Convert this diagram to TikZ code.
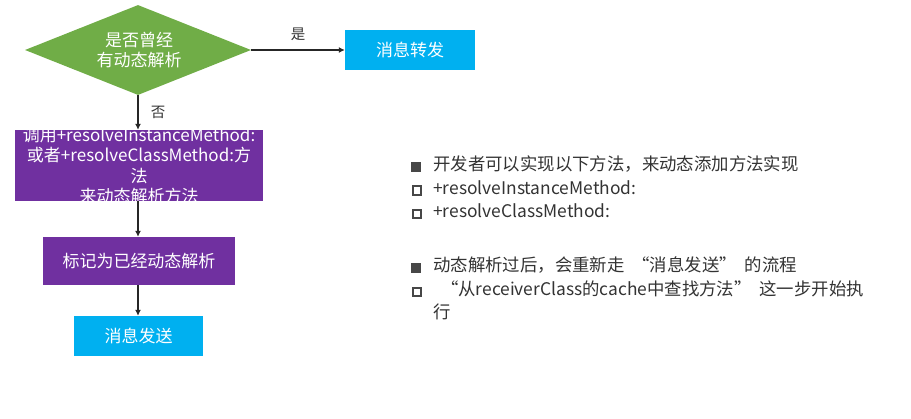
\documentclass[tikz,border=0pt]{standalone}
\usepackage{fontspec}
\setmainfont{Noto Sans CJK SC}
\usetikzlibrary{shapes.geometric,arrows.meta}

\definecolor{askgreen}{HTML}{70AD47}
\definecolor{sendblue}{HTML}{00B0F0}
\definecolor{stepviolet}{HTML}{7030A0}
\definecolor{notegray}{HTML}{333333}

% full-width quotes
\newcommand{\cnlq}{\hspace{0.45em}“}
\newcommand{\cnrq}{”\hspace{0.45em}}

\tikzset{
  flowbox/.style={rectangle, inner sep=0pt, text=white,
    font=\fontsize{17}{20.5}\selectfont, align=center},
  flow/.style={-{Latex[length=6pt,width=6pt]}, line width=1.3pt, black!85},
  flowlbl/.style={text=notegray, font=\fontsize{14.5}{16}\selectfont},
  note/.style={anchor=north west, inner sep=0pt, text=notegray, align=left,
    font=\fontsize{17.4}{23.6}\selectfont},
  fullmark/.style={rectangle, inner sep=0pt, minimum size=10pt, fill=notegray!90},
  openmark/.style={rectangle, inner sep=0pt, minimum size=8.5pt, draw=notegray!90,
    line width=2pt}
}

\begin{document}
\begin{tikzpicture}[x=1pt,y=-1pt]
  \useasboundingbox (0,0) rectangle (911,419);

  % decision (top left)
  \node[diamond, fill=askgreen, minimum width=226pt, minimum height=90pt,
    inner sep=0pt] (ask) at (138,50) {};
  \node[flowbox] (asktext) at (139,50) {是否曾经\\有动态解析};

  % forward box (top right)
  \node[flowbox, fill=sendblue, minimum width=130pt, minimum height=40pt]
    (fwd) at (410,50) {消息转发};

  % resolve step
  \node[flowbox, fill=stepviolet, minimum width=248pt, minimum height=71pt]
    (res) at (139,165.5) {};
  \begin{scope}
    \clip (res.south west) rectangle (res.north east);
    \node[flowbox] (restext) at (139,166)
      {调用+resolveInstanceMethod:\\或者+resolveClassMethod:方\\法\\来动态解析方法};
  \end{scope}

  % mark step
  \node[flowbox, fill=stepviolet, minimum width=192pt, minimum height=48pt]
    (mark) at (139,261) {标记为已经动态解析};

  % send box (bottom)
  \node[flowbox, fill=sendblue, minimum width=129pt, minimum height=40pt]
    (send) at (138.5,336) {消息发送};

  % connectors
  \draw[flow] (ask.east) -- (fwd.west) node[flowlbl, midway, above=5pt] (yes) {是};
  \draw[flow] (ask.south) -- (ask.south |- res.north)
    node[flowlbl, midway, right=9pt] (no) {否};
  \draw[flow] (ask.south |- res.south) -- (ask.south |- mark.north);
  \draw[flow] (ask.south |- mark.south) -- (ask.south |- send.north);

  % notes (right)
  \node[fullmark] (m1) at (416,167) {};
  \node[openmark] (m2) at (417,190.5) {};
  \node[openmark] (m3) at (417,214) {};
  \node[fullmark] (m4) at (416,268) {};
  \node[openmark] (m5) at (417,292) {};
  \node[note] (n1) at (433,155.5) {开发者可以实现以下方法，来动态添加方法实现\\
    +resolveInstanceMethod:\\+resolveClassMethod:};
  \node[note] (n2) at (433,256.5) {动态解析过后，会重新走\cnlq 消息发送\cnrq 的流程\\
    \cnlq 从receiverClass的cache中查找方法\cnrq 这一步开始执\\行};
\end{tikzpicture}
\end{document}
